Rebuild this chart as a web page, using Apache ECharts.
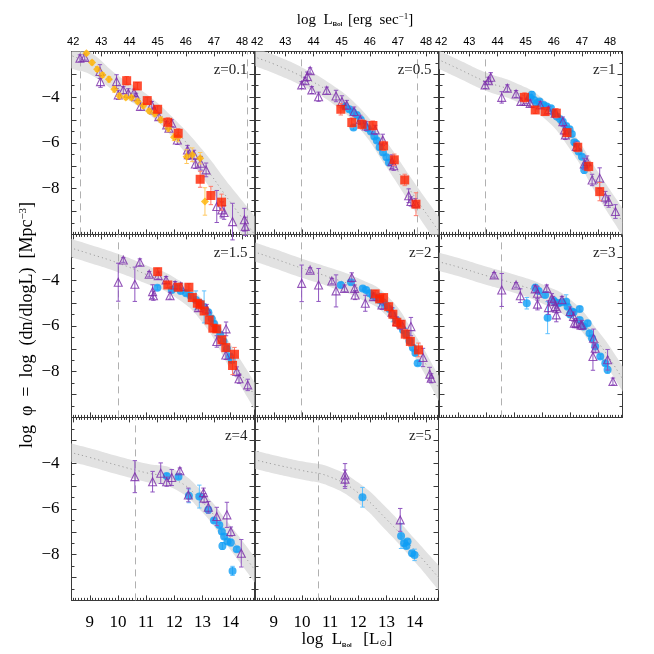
<!DOCTYPE html>
<html><head><meta charset="utf-8">
<script src="https://cdn.jsdelivr.net/npm/echarts@6/dist/echarts.min.js"></script>
<style>html,body{margin:0;padding:0;background:#fff}#c{width:654px;height:654px}</style>
</head><body><div id="c"></div><script>
// ---------- labels ----------
const redshifts = ['z=0.1','z=0.5','z=1','z=1.5','z=2','z=3','z=4','z=5'];
const xTickLabels = [9,10,11,12,13,14];
const ergTickLabels = [42,43,44,45,46,47,48];
const yTickLabels = [-4,-6,-8];

// ---------- model bands: [logL, lower, median, upper] ----------
const band01 = [[8.0,-2.5,-1.9,-1.3],[8.35,-2.75,-2.18,-1.6],[9,-3.0,-2.5,-2.0],[10,-3.85,-3.45,-3.05],[11,-4.65,-4.25,-3.85],[12,-5.85,-5.4,-4.95],[13,-7.5,-6.9,-6.3],[14,-9.3,-8.6,-7.9],[14.85,-10.8,-10.0,-9.2],[15.2,-11.4,-10.6,-9.8]];
const band05 = [[8.0,-2.45,-2.05,-1.65],[8.35,-2.65,-2.25,-1.85],[9,-2.95,-2.55,-2.15],[10,-3.5,-3.1,-2.7],[11,-4.2,-3.8,-3.4],[12,-5.3,-4.85,-4.4],[13,-7.05,-6.5,-5.95],[14,-8.95,-8.35,-7.75],[14.85,-10.5,-9.85,-9.2],[15.2,-11.2,-10.5,-9.8]];
const band10 = [[8.0,-2.6,-2.2,-1.8],[8.35,-2.78,-2.38,-1.98],[9,-3.15,-2.75,-2.35],[10,-3.72,-3.32,-2.92],[11,-4.15,-3.75,-3.35],[12,-4.85,-4.45,-4.05],[13,-6.3,-5.85,-5.4],[14,-8.4,-7.85,-7.3],[14.85,-10.05,-9.45,-8.85],[15.2,-10.7,-10.1,-9.5]];
const band15 = [[8.0,-2.87,-2.47,-2.07],[8.35,-3.0,-2.6,-2.2],[9,-3.25,-2.85,-2.45],[10,-3.65,-3.25,-2.85],[11,-4.15,-3.75,-3.35],[12,-4.72,-4.3,-3.88],[13,-5.85,-5.35,-4.85],[14,-7.9,-7.35,-6.8],[14.85,-9.65,-9.05,-8.45],[15.2,-10.4,-9.8,-9.2]];
const band20 = [[8.0,-3.05,-2.63,-2.21],[8.35,-3.2,-2.78,-2.36],[9,-3.47,-3.05,-2.63],[10,-3.9,-3.48,-3.06],[11,-4.3,-3.88,-3.46],[12,-4.78,-4.35,-3.92],[13,-5.55,-5.1,-4.65],[14,-7.35,-6.85,-6.35],[14.85,-9.25,-8.7,-8.15],[15.2,-10.0,-9.45,-8.9]];
const band30 = [[8.0,-3.45,-3.05,-2.65],[8.35,-3.6,-3.2,-2.8],[9,-3.82,-3.42,-3.02],[10,-4.2,-3.8,-3.4],[11,-4.55,-4.15,-3.75],[12,-5.02,-4.6,-4.18],[13,-5.75,-5.3,-4.85],[14,-7.25,-6.75,-6.25],[14.85,-8.85,-8.3,-7.75],[15.2,-9.55,-9.0,-8.45]];
const band40 = [[8.0,-3.82,-3.42,-3.02],[8.35,-3.94,-3.54,-3.14],[9,-4.15,-3.75,-3.35],[10,-4.5,-4.1,-3.7],[11,-4.82,-4.42,-4.02],[12,-5.12,-4.7,-4.28],[13,-6.15,-5.7,-5.25],[14,-7.8,-7.27,-6.74],[14.85,-9.2,-8.65,-8.1],[15.2,-9.8,-9.25,-8.7]];
const band50 = [[8.0,-4.15,-3.75,-3.35],[8.35,-4.26,-3.86,-3.46],[9,-4.45,-4.05,-3.65],[10,-4.72,-4.32,-3.92],[11,-5.02,-4.6,-4.18],[12,-5.75,-5.3,-4.85],[13,-6.95,-6.45,-5.95],[14,-8.3,-7.8,-7.3],[14.85,-9.55,-9.0,-8.45],[15.2,-10.1,-9.5,-8.9]];

// ---------- dashed limits ----------
const lim01 = [8.65,14.59], lim05 = [9.97,14.09], lim10 = [9.97], lim15 = [10.0], lim20 = [9.99], lim30 = [10.55], lim40 = [10.6], lim50 = [10.58];

// ---------- data points: [logL, logPhi, err] ----------
const tri01 = [[8.65,-2.30,0.15],[8.82,-2.26,0.12],[9.36,-2.88,0.3],[9.38,-3.32,0.25],[9.95,-3.32,0.3],[10.01,-3.90,0.2],[10.19,-3.69,0.15],[10.37,-3.83,0.2],[10.57,-3.80,0.15],[10.64,-3.98,0.15],[10.80,-4.41,0.15],[11.20,-4.34,0.15],[11.28,-4.56,0.12],[11.45,-4.85,0.15],[11.73,-5.21,0.15],[11.81,-5.36,0.15],[11.91,-5.14,0.15],[12.11,-5.87,0.2],[12.47,-6.31,0.2],[12.50,-6.52,0.2],[12.70,-6.52,0.2],[12.75,-6.92,0.2],[12.94,-6.89,0.3],[13.13,-7.18,0.3],[13.51,-8.78,0.7],[13.69,-8.93,0.35],[13.77,-9.04,0.3],[14.07,-9.44,0.8],[14.49,-9.36,0.5],[14.52,-9.65,0.4]];
const dia01 = [[8.88,-2.08,0.08],[9.08,-2.49,0.1],[9.26,-2.78,0.1],[9.45,-3.03,0.1],[9.68,-3.22,0.12],[9.87,-3.66,0.12],[10.05,-3.95,0.12],[10.28,-4.01,0.1],[10.48,-4.02,0.1],[10.70,-4.19,0.1],[10.90,-4.38,0.1],[11.11,-4.60,0.1],[11.31,-4.73,0.1],[11.52,-4.99,0.12],[11.79,-5.36,0.15],[11.99,-5.75,0.15],[12.14,-5.75,0.2],[12.44,-6.6,0.3],[12.64,-6.52,0.3],[12.92,-6.67,0.25],[13.09,-8.56,0.6]];
const sq01 = [[10.31,-3.28,0.18],[10.69,-3.51,0.15],[11.04,-4.15,0.15],[11.41,-4.53,0.15],[11.77,-5.10,0.2],[12.14,-5.58,0.2],[12.92,-7.59,0.35],[13.30,-8.30,0.4],[13.68,-8.59,0.35]];

const tri05 = [[9.99,-3.47,0.15],[10.11,-3.28,0.15],[10.19,-3.10,0.2],[10.29,-2.84,0.12],[10.35,-3.69,0.15],[10.59,-3.98,0.2],[10.88,-3.71,0.15],[11.21,-3.95,0.25],[11.42,-4.19,0.25],[11.59,-4.34,0.2],[11.85,-4.63,0.2],[12.07,-4.99,0.2],[12.28,-5.26,0.2],[12.60,-5.43,0.2],[12.87,-5.87,0.25],[13.20,-6.82,0.3],[13.26,-7.00,0.2],[13.79,-8.31,0.3],[13.87,-8.56,0.2],[14.03,-8.63,0.2]];
const circ05 = [[11.53,-4.41,0.1],[11.68,-4.53,0.1],[11.81,-4.65,0.1],[11.95,-4.78,0.1],[12.09,-4.99,0.1],[12.21,-5.21,0.1],[12.33,-5.36,0.1],[12.45,-5.50,0.1],[12.57,-5.72,0.1],[12.66,-5.90,0.1],[12.76,-6.19,0.1],[12.88,-6.42,0.1],[13.00,-6.63,0.1],[13.09,-6.86,0.12],[11.83,-5.33,0.1]];
const sq05 = [[11.38,-4.53,0.25],[11.77,-5.11,0.2],[12.13,-5.19,0.2],[12.52,-5.24,0.2],[12.90,-6.13,0.2],[13.28,-6.74,0.25],[13.65,-7.62,0.25],[14.05,-8.68,0.5]];

const tri10 = [[9.97,-3.47,0.15],[10.09,-3.28,0.15],[10.17,-3.13,0.2],[10.56,-4.01,0.25],[10.76,-3.61,0.15],[11.07,-3.86,0.15],[11.24,-4.19,0.15],[11.43,-4.19,0.1],[11.57,-4.27,0.15],[11.93,-4.34,0.15],[12.22,-4.56,0.15],[12.46,-4.70,0.2],[12.73,-5.07,0.2],[12.79,-5.43,0.2],[12.82,-5.65,0.2],[13.21,-6.16,0.2],[13.49,-6.92,0.25],[13.59,-6.82,0.25],[13.77,-7.62,0.25],[14.04,-7.54,0.45],[14.24,-8.37,0.25],[14.36,-8.56,0.25],[14.60,-9.00,0.3]];
const circ10 = [[11.57,-4.01,0.1],[11.63,-3.90,0.15],[11.71,-4.12,0.1],[11.81,-4.27,0.1],[11.90,-4.19,0.1],[12.05,-4.34,0.1],[12.16,-4.41,0.1],[12.31,-4.49,0.1],[12.42,-4.67,0.1],[12.52,-4.85,0.1],[12.64,-4.97,0.1],[12.73,-5.07,0.1],[12.85,-5.26,0.1],[12.97,-5.40,0.1],[13.05,-5.61,0.1],[13.14,-5.97,0.1],[13.21,-6.04,0.1],[13.29,-6.38,0.1],[13.41,-6.60,0.1],[13.49,-7.18,0.15],[13.56,-6.96,0.1]];
const sq10 = [[11.37,-4.01,0.2],[11.75,-4.56,0.15],[12.10,-4.63,0.15],[12.50,-4.70,0.2],[12.88,-5.55,0.15],[13.26,-6.19,0.2],[13.65,-7.03,0.2],[14.04,-8.13,0.4]];

const tri15 = [[10.01,-4.09,0.83],[10.19,-3.12,0.1],[10.60,-4.18,0.75],[10.78,-3.22,0.15],[11.11,-3.74,0.12],[11.23,-4.50,0.3],[11.26,-4.68,0.2],[11.43,-3.80,0.15],[11.71,-3.99,0.15],[11.85,-4.68,0.15],[12.03,-4.21,0.15],[12.23,-4.28,0.15],[12.86,-5.20,0.15],[13.15,-5.26,0.2],[13.51,-6.68,0.25],[13.84,-6.13,0.3],[13.83,-7.27,0.2],[14.22,-7.99,0.2],[14.30,-8.31,0.2],[14.61,-8.58,0.25]];
const circ15 = [[11.40,-4.33,0.1],[11.91,-4.43,0.1],[12.09,-4.33,0.1],[12.23,-4.47,0.1],[12.42,-4.57,0.1],[12.58,-4.68,0.1],[12.77,-4.87,0.4],[12.92,-5.01,0.1],[13.06,-5.17,0.7],[13.21,-5.40,0.1],[13.33,-5.69,0.1],[13.41,-5.91,0.1],[13.51,-6.13,0.1],[13.63,-6.39,0.1],[13.75,-6.68,0.1],[13.87,-7.00,0.1],[13.98,-7.34,0.1],[14.04,-7.49,0.1]];
const sq15 = [[11.41,-3.63,0.15],[11.77,-4.21,0.12],[12.14,-4.31,0.15],[12.52,-4.31,0.15],[12.64,-4.76,0.15],[12.82,-5.01,0.15],[12.92,-5.08,0.15],[13.06,-5.35,0.15],[13.24,-5.74,0.15],[13.37,-6.10,0.15],[13.51,-6.13,0.15],[13.69,-6.61,0.15],[13.83,-6.95,0.15],[14.07,-7.73,0.4],[14.14,-7.24,0.3]];

const tri20 = [[9.99,-4.14,0.8],[10.29,-3.56,0.1],[10.59,-4.21,0.72],[11.06,-4.04,0.12],[11.21,-4.47,0.7],[11.51,-4.36,0.15],[11.77,-3.88,0.2],[11.87,-4.36,0.15],[11.89,-4.65,0.2],[12.25,-5.01,0.35],[12.54,-4.72,0.15],[12.84,-5.08,0.2],[13.20,-5.40,0.2],[13.37,-5.81,0.2],[13.55,-5.96,0.2],[13.87,-6.03,0.4],[14.30,-7.38,0.4],[14.54,-8.11,0.3],[14.59,-8.29,0.2]];
const circ20 = [[11.38,-4.21,0.1],[11.74,-4.09,0.1],[12.16,-4.36,0.1],[12.28,-4.43,0.1],[12.40,-4.57,0.1],[12.52,-4.68,0.1],[12.64,-4.76,0.1],[12.76,-4.87,0.3],[12.88,-4.97,0.1],[12.99,-5.11,0.1],[13.11,-5.26,0.1],[13.23,-5.52,0.3],[13.35,-5.74,0.1],[13.47,-5.96,0.1],[13.59,-6.18,0.1],[13.71,-6.39,0.1],[13.82,-6.66,0.1],[13.94,-6.95,0.1],[14.03,-7.19,0.1],[14.11,-7.63,0.1]];
const sq20 = [[12.60,-4.60,0.15],[12.76,-4.82,0.15],[12.90,-4.76,0.15],[13.08,-5.16,0.15],[13.23,-5.49,0.15],[13.37,-5.84,0.15],[13.52,-5.93,0.15],[13.67,-6.36,0.2],[13.85,-6.68,0.2],[14.14,-7.05,0.3]];

const tri30 = [[10.29,-3.77,0.1],[10.56,-4.43,0.72],[11.07,-4.21,0.1],[11.22,-4.68,0.3],[11.75,-4.38,0.15],[11.83,-4.57,0.3],[11.83,-5.05,0.25],[12.16,-4.36,0.15],[12.22,-5.20,0.3],[12.34,-4.79,0.2],[12.38,-4.91,0.2],[12.46,-5.15,0.2],[12.50,-5.52,0.3],[12.52,-5.23,0.2],[12.70,-4.86,0.15],[12.99,-5.37,0.2],[13.11,-5.59,0.2],[13.14,-5.88,0.2],[13.21,-5.88,0.2],[13.37,-5.96,0.2],[13.41,-5.96,0.2],[13.82,-6.54,0.4],[13.88,-6.98,0.2],[13.80,-7.34,0.6],[14.32,-7.48,0.45],[14.51,-8.43,0.15]];
const circ30 = [[11.45,-5.01,0.25],[11.75,-4.33,0.15],[11.87,-4.47,0.1],[12.10,-4.65,0.1],[12.19,-5.64,0.7],[12.40,-4.89,0.1],[12.46,-4.97,0.1],[12.58,-5.01,0.1],[12.70,-4.97,0.1],[12.85,-4.94,0.3],[12.90,-5.16,0.1],[12.99,-5.49,0.1],[13.05,-5.37,0.1],[13.11,-5.40,0.1],[13.33,-5.26,0.1],[13.33,-5.74,0.1],[13.47,-6.03,0.1],[13.61,-5.88,0.1],[13.68,-6.32,0.1],[13.77,-6.54,0.1],[13.88,-6.90,0.1],[14.06,-7.34,0.1],[14.24,-7.63,0.1],[14.32,-7.92,0.15]];

const tri40 = [[10.60,-4.59,0.7],[11.23,-4.81,0.45],[11.52,-4.44,0.45],[11.73,-4.81,0.2],[11.91,-4.63,0.35],[12.20,-4.33,0.12],[12.50,-5.39,0.3],[13.04,-5.29,0.2],[13.06,-5.53,0.2],[13.21,-5.93,0.25],[13.51,-6.33,0.4],[13.87,-6.26,0.55],[14.01,-6.99,0.2],[14.38,-7.94,0.6]];
const circ40 = [[11.73,-4.56,0.1],[12.15,-4.59,0.1],[12.52,-5.43,0.3],[12.89,-5.46,0.5],[13.21,-6.04,0.15],[13.41,-6.51,0.1],[13.60,-6.70,0.1],[13.69,-6.99,0.1],[13.77,-7.21,0.1],[13.89,-7.43,0.1],[14.01,-7.47,0.15],[13.71,-7.62,0.15],[14.22,-7.76,0.1],[14.07,-8.71,0.2]];

const tri50 = [[11.53,-4.52,0.5],[11.53,-4.70,0.4],[13.49,-6.48,0.5]];
const circ50 = [[12.15,-5.49,0.43],[13.52,-7.18,0.55],[13.63,-7.50,0.1],[13.75,-7.43,0.1],[13.71,-7.62,0.1],[13.91,-7.94,0.1],[14.00,-8.01,0.25]];

// ---------- layout ----------
const XMIN = 8.35, XMAX = 14.85, ERG = 33.59, YMIN = -10, YMAX = -2;
const GX = [71.5, 255.5, 439.5], GW = 183, GY = [51.4, 234.4, 417.4], GH = 183;
const SERIF = '"Liberation Serif","DejaVu Serif",serif';
const SANS = '"Liberation Sans","DejaVu Sans",sans-serif';
const AXC = '#3a3a3a';
const PURPLE = '#7a2ca8', PURPLE_E = '#8f55c0';
const RED = '#ff2200', RED_E = '#ff7a6a';
const BLUE = '#0f9df5', BLUE_E = '#5ec0ff';
const ORANGE = '#ffb300', ORANGE_E = '#ffc860';

const panels = [
  {band: band01, lim: lim01, tri: tri01, sq: sq01, circ: [], dia: dia01},
  {band: band05, lim: lim05, tri: tri05, sq: sq05, circ: circ05, dia: []},
  {band: band10, lim: lim10, tri: tri10, sq: sq10, circ: circ10, dia: []},
  {band: band15, lim: lim15, tri: tri15, sq: sq15, circ: circ15, dia: []},
  {band: band20, lim: lim20, tri: tri20, sq: sq20, circ: circ20, dia: []},
  {band: band30, lim: lim30, tri: tri30, sq: [], circ: circ30, dia: []},
  {band: band40, lim: lim40, tri: tri40, sq: [], circ: circ40, dia: []},
  {band: band50, lim: lim50, tri: tri50, sq: [], circ: circ50, dia: []}
];

const minorL = []; for (let k = 84; k <= 148; k++) minorL.push(k / 10);
const minorE = []; for (let k = 420; k <= 484; k++) minorE.push(k / 10);

const grids = [], xAxes = [], yAxes = [], series = [], graphics = [];
const lineSt = {color: AXC, width: 1};

function errSeries(i, data, color, z) {
  return {
    type: 'custom', xAxisIndex: 4 * i, yAxisIndex: 2 * i, z: z, silent: true,
    data: data, encode: {x: 0, y: 1},
    renderItem: function (params, api) {
      const x = api.value(0), y = api.value(1), e = api.value(2);
      const a = api.coord([x, y + e]), b = api.coord([x, y - e]);
      const w = 2.2, st = {stroke: color, lineWidth: 1};
      return {type: 'group', children: [
        {type: 'line', shape: {x1: a[0], y1: a[1], x2: b[0], y2: b[1]}, style: st},
        {type: 'line', shape: {x1: a[0] - w, y1: a[1], x2: a[0] + w, y2: a[1]}, style: st},
        {type: 'line', shape: {x1: b[0] - w, y1: b[1], x2: b[0] + w, y2: b[1]}, style: st}
      ]};
    }
  };
}

panels.forEach(function (p, i) {
  const col = i % 3, row = Math.floor(i / 3);
  grids.push({left: GX[col], top: GY[row], width: GW, height: GH, containLabel: false});
  // bottom (L_sun) axes
  xAxes.push({gridIndex: i, type: 'value', position: 'bottom', min: XMIN, max: XMAX,
    axisLine: {show: true, onZero: false, lineStyle: lineSt},
    axisTick: {show: true, inside: true, length: 5, customValues: xTickLabels, lineStyle: lineSt},
    axisLabel: {show: row === 2, customValues: xTickLabels, margin: 14, fontSize: 17, fontFamily: SERIF, color: '#000'},
    splitLine: {show: false}});
  xAxes.push({gridIndex: i, type: 'value', position: 'bottom', min: XMIN, max: XMAX,
    axisLine: {show: false, onZero: false},
    axisTick: {show: true, inside: true, length: 2.5, customValues: minorL, lineStyle: lineSt},
    axisLabel: {show: false}, splitLine: {show: false}});
  // top (erg/s) axes
  xAxes.push({gridIndex: i, type: 'value', position: 'top', min: XMIN + ERG, max: XMAX + ERG,
    axisLine: {show: true, onZero: false, lineStyle: lineSt},
    axisTick: {show: true, inside: true, length: 5, customValues: ergTickLabels, lineStyle: lineSt},
    axisLabel: {show: row === 0, customValues: ergTickLabels, margin: 4, fontSize: 11, fontFamily: SANS, color: '#000'},
    splitLine: {show: false}});
  xAxes.push({gridIndex: i, type: 'value', position: 'top', min: XMIN + ERG, max: XMAX + ERG,
    axisLine: {show: false, onZero: false},
    axisTick: {show: true, inside: true, length: 2.5, customValues: minorE, lineStyle: lineSt},
    axisLabel: {show: false}, splitLine: {show: false}});
  // y axes
  [ 'left', 'right' ].forEach(function (pos) {
    yAxes.push({gridIndex: i, type: 'value', position: pos, min: YMIN, max: YMAX, interval: 1,
      axisLine: {show: true, onZero: false, lineStyle: lineSt},
      axisTick: {show: true, inside: true, length: 5, lineStyle: lineSt},
      minorTick: {show: true, splitNumber: 2, length: 3, lineStyle: lineSt},
      axisLabel: {show: pos === 'left' && col === 0, margin: 12, fontSize: 17, fontFamily: SERIF, color: '#000',
        formatter: function (v) { return yTickLabels.indexOf(v) >= 0 ? '\u2212' + Math.abs(v) : ''; }},
      splitLine: {show: false}, minorSplitLine: {show: false}});
  });

  // shaded model band
  series.push({type: 'custom', xAxisIndex: 4 * i, yAxisIndex: 2 * i, z: 1, silent: true,
    data: p.band, encode: {x: 0, y: 2},
    renderItem: function (params, api) {
      if (params.dataIndex !== 0) return null;
      const up = p.band.map(function (r) { return api.coord([r[0], r[3]]); });
      const lo = p.band.slice().reverse().map(function (r) { return api.coord([r[0], r[1]]); });
      const cs = params.coordSys;
      return {type: 'polygon', shape: {points: up.concat(lo), smooth: 0.5},
        style: {fill: '#e2e2e2'},
        clipPath: {type: 'rect', shape: {x: cs.x, y: cs.y, width: cs.width, height: cs.height}}};
    }});
  // median line + dashed limits
  series.push({type: 'line', xAxisIndex: 4 * i, yAxisIndex: 2 * i, z: 2, silent: true,
    data: p.band.map(function (r) { return [r[0], r[2]]; }), smooth: 0.5, symbol: 'none',
    lineStyle: {color: '#a0a0a0', width: 1, type: [1.2, 3]},
    markLine: {silent: true, symbol: ['none', 'none'], label: {show: false},
      lineStyle: {color: '#b0b0b0', width: 1, type: [7, 5]},
      data: p.lim.map(function (v) { return {xAxis: v}; })}});

  // points
  const xy = function (arr) { return arr.map(function (r) { return [r[0], r[1]]; }); };
  if (p.circ.length) {
    series.push(errSeries(i, p.circ, BLUE_E, 3));
    series.push({type: 'scatter', xAxisIndex: 4 * i, yAxisIndex: 2 * i, z: 4, silent: true,
      symbol: 'circle', symbolSize: 8, data: xy(p.circ), itemStyle: {color: BLUE}});
  }
  if (p.tri.length) {
    series.push(errSeries(i, p.tri, PURPLE_E, 5));
    series.push({type: 'scatter', xAxisIndex: 4 * i, yAxisIndex: 2 * i, z: 6, silent: true,
      symbol: 'triangle', symbolSize: 8, data: xy(p.tri),
      itemStyle: {color: 'rgba(255,255,255,0)', borderColor: PURPLE, borderWidth: 1.1}});
  }
  if (p.dia.length) {
    series.push(errSeries(i, p.dia, ORANGE_E, 7));
    series.push({type: 'scatter', xAxisIndex: 4 * i, yAxisIndex: 2 * i, z: 8, silent: true,
      symbol: 'diamond', symbolSize: 8, data: xy(p.dia), itemStyle: {color: ORANGE}});
  }
  if (p.sq.length) {
    series.push(errSeries(i, p.sq, RED_E, 9));
    series.push({type: 'scatter', xAxisIndex: 4 * i, yAxisIndex: 2 * i, z: 10, silent: true,
      symbol: 'rect', symbolSize: 9, data: xy(p.sq), itemStyle: {color: RED}});
  }

  graphics.push({type: 'text', x: GX[col] + GW - 7, y: GY[row] + 19, z: 20,
    style: {text: redshifts[i], font: '15px ' + SERIF, fill: '#222', textAlign: 'right', textVerticalAlign: 'middle'}});
});

graphics.push({type: 'text', x: 355, y: 20,
  style: {text: '{a|log  L}{s|Bol}{a| [erg  sec}{p|\u22121}{a|]}', textAlign: 'center', textVerticalAlign: 'middle',
    rich: {a: {fontSize: 15, fontFamily: SERIF, fill: '#000', color: '#000'},
           s: {fontSize: 6, fontWeight: 'bold', fontFamily: SANS, color: '#000', verticalAlign: 'bottom', padding: [6, 2, 0, 0]},
           p: {fontSize: 9, fontFamily: SERIF, color: '#000', verticalAlign: 'top', padding: [0, 0, 6, 0]}}}});
graphics.push({type: 'text', x: 347, y: 640,
  style: {text: '{a|log  L}{s|Bol}{a|  [L}{o|\u2299}{a|]}', textAlign: 'center', textVerticalAlign: 'middle',
    rich: {a: {fontSize: 17, fontFamily: SERIF, color: '#000'},
           s: {fontSize: 6, fontWeight: 'bold', fontFamily: SANS, color: '#000', verticalAlign: 'bottom', padding: [6, 3, 0, 0]},
           o: {fontSize: 9, fontFamily: '"DejaVu Sans",sans-serif', color: '#000', verticalAlign: 'bottom', padding: [6, 0, 0, 0]}}}});
graphics.push({type: 'text', x: 27, y: 325, rotation: Math.PI / 2,
  style: {text: '{a|log  \u03c6  =  log  (dn/dlogL)  [Mpc}{p|\u22123}{a|]}', textAlign: 'center', textVerticalAlign: 'middle',
    rich: {a: {fontSize: 18, fontFamily: SERIF, color: '#000'},
           p: {fontSize: 11, fontFamily: SERIF, color: '#000', verticalAlign: 'top', padding: [0, 0, 8, 0]}}}});

const chart = echarts.init(document.getElementById('c'), null, {renderer: 'canvas'});
chart.setOption({
  animation: false,
  backgroundColor: '#fff',
  grid: grids, xAxis: xAxes, yAxis: yAxes, series: series, graphic: graphics
});
</script></body></html>
